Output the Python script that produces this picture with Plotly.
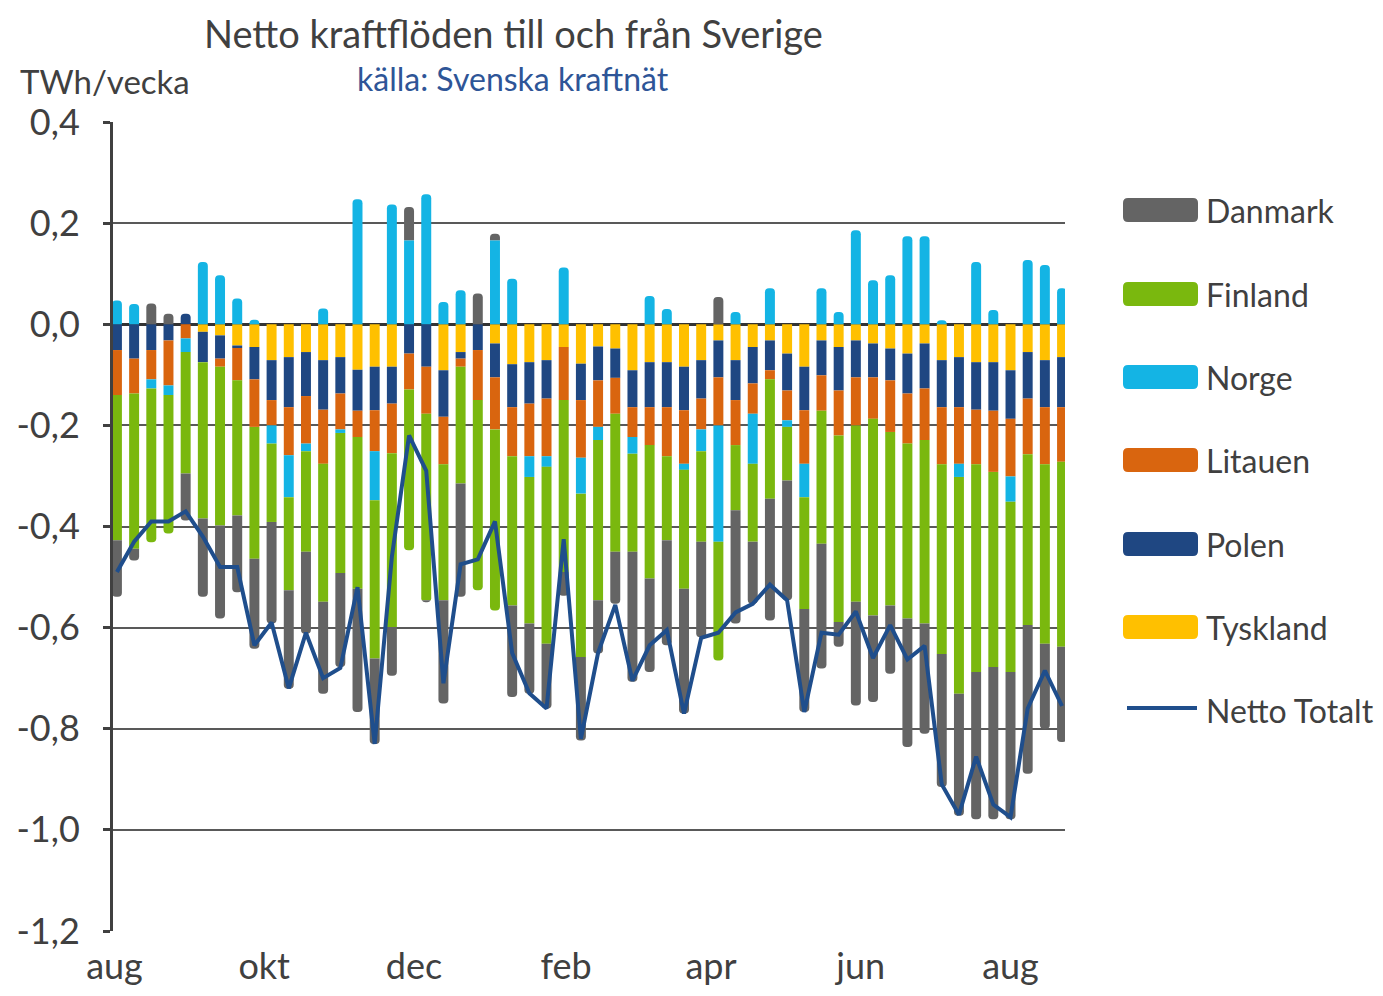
import plotly.graph_objects as go
import pandas as pd

weeks = pd.date_range("2021-08-02", periods=56, freq="7D")

tyskland = [0, 0, 0, 0, 0, -0.015, -0.022, -0.042, -0.045, -0.071,
            -0.065, -0.055, -0.071, -0.065, -0.090, -0.084, -0.084, 0, 0, -0.091,
            -0.055, 0, -0.038, -0.079, -0.075, -0.071, -0.045, -0.078, -0.044, -0.048,
            -0.091, -0.075, -0.075, -0.084, -0.071, -0.032, -0.071, -0.045, -0.032, -0.058,
            -0.084, -0.032, -0.045, -0.032, -0.038, -0.048, -0.058, -0.038, -0.071, -0.065,
            -0.075, -0.075, -0.091, -0.055, -0.071, -0.065]
polen = [-0.051, -0.068, -0.051, -0.032, 0.021, -0.060, -0.046, -0.005, -0.064, -0.079,
         -0.099, -0.087, -0.098, -0.072, -0.081, -0.086, -0.073, -0.058, -0.084, -0.092,
         -0.013, -0.051, -0.067, -0.085, -0.082, -0.076, 0, -0.072, -0.067, -0.058,
         -0.073, -0.089, -0.089, -0.086, -0.076, -0.073, -0.079, -0.072, -0.059, -0.073,
         -0.086, -0.069, -0.086, -0.073, -0.067, -0.063, -0.079, -0.089, -0.093, -0.099,
         -0.094, -0.096, -0.096, -0.092, -0.093, -0.099]
litauen = [-0.089, -0.069, -0.058, -0.089, -0.028, 0, -0.016, -0.064, -0.094, -0.050,
           -0.095, -0.094, -0.107, -0.071, -0.052, -0.081, -0.098, -0.071, -0.093, -0.094,
           -0.016, -0.099, -0.103, -0.097, -0.104, -0.114, -0.105, -0.114, -0.092, -0.071,
           -0.059, -0.075, -0.097, -0.106, -0.061, -0.095, -0.089, -0.060, -0.018, -0.059,
           -0.106, -0.070, -0.089, -0.095, -0.082, -0.102, -0.099, -0.102, -0.113, -0.112,
           -0.108, -0.121, -0.114, -0.110, -0.113, -0.108]
norge = [0.047, 0.040, -0.018, -0.019, -0.027, 0.123, 0.097, 0.051, 0.009, -0.036,
         -0.083, -0.015, 0.031, -0.007, 0.247, -0.097, 0.237, 0.166, 0.257, 0.044,
         0.067, 0, 0.166, 0.090, -0.041, -0.021, 0.112, -0.071, -0.026, 0,
         -0.033, 0.056, 0.030, -0.012, -0.043, -0.230, 0.024, -0.099, 0.071, -0.013,
         -0.066, 0.071, 0.024, 0.186, 0.087, 0.097, 0.174, 0.174, 0.008, -0.026,
         0.123, 0.028, -0.050, 0.127, 0.117, 0.071]
finland = [-0.287, -0.307, -0.304, -0.274, -0.240, -0.309, -0.314, -0.267, -0.261, -0.155,
           -0.184, -0.199, -0.273, -0.277, -0.300, -0.313, -0.344, -0.318, -0.369, -0.269,
           -0.231, -0.376, -0.358, -0.295, -0.290, -0.350, -0.340, -0.323, -0.317, -0.273,
           -0.194, -0.264, -0.166, -0.235, -0.179, -0.235, -0.129, -0.154, -0.236, -0.106,
           -0.221, -0.263, -0.369, -0.349, -0.389, -0.343, -0.346, -0.363, -0.375, -0.429,
           -0.411, -0.386, -0.337, -0.338, -0.355, -0.366]
danmark = [-0.112, -0.023, 0.041, 0.021, -0.093, -0.155, -0.184, -0.152, -0.178, -0.201,
           -0.195, -0.162, -0.182, -0.186, -0.244, -0.169, -0.096, 0.066, -0.004, -0.204,
           -0.224, 0.061, 0.013, -0.181, -0.139, -0.128, -0.047, -0.165, -0.105, -0.103,
           -0.257, -0.185, -0.208, -0.247, -0.189, 0.054, -0.224, -0.123, -0.241, -0.237,
           -0.204, -0.247, -0.049, -0.205, -0.171, -0.135, -0.254, -0.218, -0.263, -0.241,
           -0.291, -0.301, -0.291, -0.294, -0.168, -0.188]
netto = [-0.49, -0.43, -0.39, -0.39, -0.37, -0.42, -0.48, -0.48, -0.635, -0.59,
         -0.72, -0.61, -0.70, -0.68, -0.52, -0.83, -0.46, -0.22, -0.29, -0.71,
         -0.475, -0.465, -0.39, -0.65, -0.73, -0.76, -0.425, -0.82, -0.65, -0.555,
         -0.705, -0.635, -0.605, -0.77, -0.62, -0.61, -0.57, -0.553, -0.515, -0.546,
         -0.767, -0.61, -0.614, -0.568, -0.66, -0.595, -0.663, -0.636, -0.91, -0.97,
         -0.855, -0.95, -0.975, -0.76, -0.685, -0.755]

month_ticks = ["2021-08-01", "2021-10-01", "2021-12-01", "2022-02-01",
               "2022-04-01", "2022-06-01", "2022-08-01"]
month_labels = ["aug", "okt", "dec", "feb", "apr", "jun", "aug"]
y_ticks = [0.4, 0.2, 0.0, -0.2, -0.4, -0.6, -0.8, -1.0, -1.2]
y_labels = ["0,4", "0,2", "0,0", "-0,2", "-0,4", "-0,6", "-0,8", "-1,0", "-1,2"]

series = [
    ("Tyskland", tyskland, "#FFC000"),
    ("Polen", polen, "#1F4782"),
    ("Litauen", litauen, "#D9650F"),
    ("Norge", norge, "#14B4E4"),
    ("Finland", finland, "#7AB80E"),
    ("Danmark", danmark, "#646464"),
]
line_color = "#1F4E8C"
TXT = "#404040"
FONT = "Lato"

fig = go.Figure()
for name, vals, col in series:
    fig.add_trace(go.Bar(x=weeks, y=vals, name=name, marker_color=col,
                         marker_line_width=0, showlegend=False))
fig.add_trace(go.Scatter(x=weeks, y=netto, name="Netto Totalt", mode="lines",
                         line=dict(color=line_color, width=4), showlegend=False))

W, H = 1367, 980
L, R, T, B = 105, 1057, 114, 923


def px(xf):
    return (xf - L) / (R - L)


def py(yf):
    return (B - yf) / (B - T)


annotations = [
    dict(text="Netto kraftflöden till och från Sverige", x=px(505), y=py(0.5),
         yanchor="top", borderpad=0,
         font=dict(size=38, color=TXT, family=FONT)),
    dict(text="källa: Svenska kraftnät", x=px(505), y=py(71), yanchor="middle",
         font=dict(size=32, color="#2E5597", family=FONT)),
    dict(text="TWh/vecka", x=px(11), y=py(73), xanchor="left", yanchor="middle",
         borderpad=0, font=dict(size=33, color=TXT, family=FONT)),
]
for a in annotations:
    a.update(xref="paper", yref="paper", showarrow=False)
    a.setdefault("xanchor", "center")

shapes = []
legend_items = [("Danmark", "#646464"), ("Finland", "#7AB80E"), ("Norge", "#14B4E4"),
                ("Litauen", "#D9650F"), ("Polen", "#1F4782"), ("Tyskland", "#FFC000"),
                ("Netto Totalt", None)]
ys = [202, 286, 369, 452, 536, 619, 702]
for (lab, col), yc in zip(legend_items, ys):
    if col:
        x0, x1 = px(1115), px(1190)
        y0, y1 = py(yc + 12), py(yc - 12)
        rx, ry = 5 / (R - L), 5 / (B - T)
        path = (f"M{x0+rx},{y0} L{x1-rx},{y0} Q{x1},{y0} {x1},{y0+ry} "
                f"L{x1},{y1-ry} Q{x1},{y1} {x1-rx},{y1} L{x0+rx},{y1} "
                f"Q{x0},{y1} {x0},{y1-ry} L{x0},{y0+ry} Q{x0},{y0} {x0+rx},{y0} Z")
        shapes.append(dict(type="path", path=path, xref="paper", yref="paper",
                           fillcolor=col, line_width=0))
    else:
        shapes.append(dict(type="line", xref="paper", yref="paper",
                           x0=px(1119), x1=px(1189), y0=py(yc - 2), y1=py(yc - 2),
                           line=dict(color=line_color, width=4)))
    annotations.append(dict(text=lab, x=px(1196), y=py(yc), xref="paper", yref="paper",
                            xanchor="left", yanchor="middle", showarrow=False,
                            font=dict(size=32, color=TXT, family=FONT)))

fig.update_layout(
    width=W, height=H,
    margin=dict(l=L, r=W - R, t=T, b=H - B, pad=0),
    barmode="relative", bargap=0.42, barcornerradius=5,
    plot_bgcolor="white", paper_bgcolor="white",
    font=dict(family=FONT, color=TXT),
    annotations=annotations, shapes=shapes,
    showlegend=False,
)
fig.update_xaxes(
    range=[weeks[0] - pd.Timedelta(days=1.6), weeks[-1] + pd.Timedelta(days=1.2)],
    tickvals=month_ticks, ticktext=month_labels, showgrid=False, zeroline=False,
    ticks="", tickfont=dict(size=36, color=TXT, family=FONT), ticklabelstandoff=11,
    showline=False, automargin=False,
)
fig.update_yaxes(
    range=[-1.2, 0.4], tickvals=y_ticks, ticktext=y_labels,
    showgrid=True, gridcolor="#595959", gridwidth=2,
    zeroline=True, zerolinecolor="#333333", zerolinewidth=3,
    showline=True, linecolor="#404040", linewidth=3,
    ticks="outside", ticklen=7, tickwidth=3, tickcolor="#404040",
    tickfont=dict(size=36, color=TXT, family=FONT), ticklabelstandoff=16,
    automargin=False,
)

fig.write_html("out.html")
